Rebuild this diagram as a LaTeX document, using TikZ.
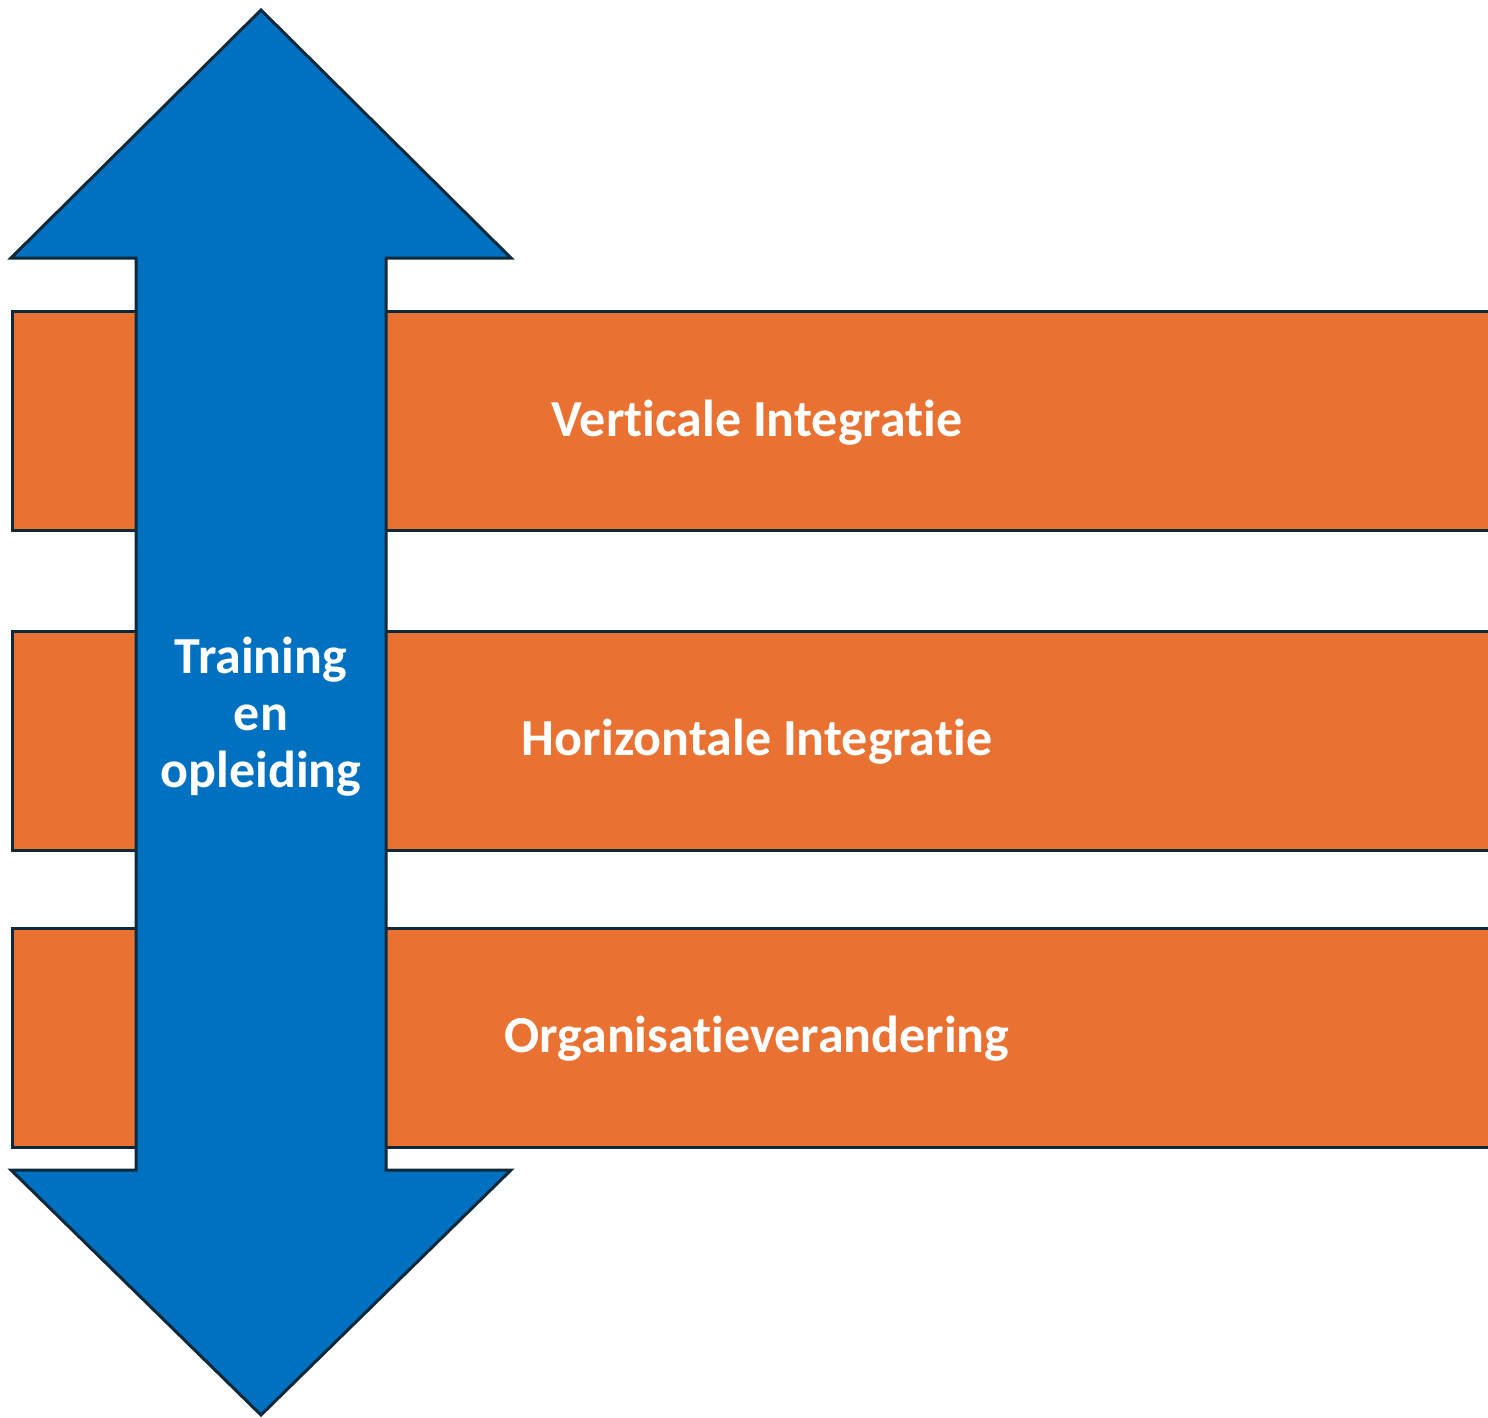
\documentclass[tikz,border=0pt]{standalone}
\usepackage{fontspec}
\setmainfont{Carlito}[Ligatures=NoCommon]
\definecolor{barorange}{HTML}{E97132}
\definecolor{arrowblue}{HTML}{0070C0}
\definecolor{edgedark}{HTML}{0E2A3A}
\begin{document}
\begin{tikzpicture}[x=1pt,y=-1pt,
  bar/.style={fill=barorange,draw=edgedark,line width=3pt},
  arr/.style={fill=arrowblue,draw=edgedark,line width=3pt,line join=miter},
  bartext/.style={text=white,font=\bfseries\fontsize{52}{57}\selectfont,anchor=center},
  arrtext/.style={text=white,font=\bfseries\fontsize{52}{57}\selectfont,align=center,anchor=center}]
\useasboundingbox (0,0) rectangle (1488,1418);
\begin{scope}
\clip (0,0) rectangle (1488,1418);
\draw[bar] (12,311) rectangle (1500,530);
\draw[bar] (12,631) rectangle (1500,850);
\draw[bar] (12,928) rectangle (1500,1147);
\draw[arr] (261,10) -- (511,258) -- (386,258) -- (386,1170) -- (511,1170) -- (261,1415)
  -- (11,1170) -- (136,1170) -- (136,258) -- (11,258) -- cycle;
\end{scope}
\node[bartext] (v) at (757,423) {Verticale Integratie};
\node[bartext] (h) at (757,742) {Horizontale Integratie};
\node[bartext] (o) at (757,1039) {Organisatieverandering};
\node[arrtext] (t) at (261,717) {Training\\en\\opleiding};
\end{tikzpicture}
\end{document}
